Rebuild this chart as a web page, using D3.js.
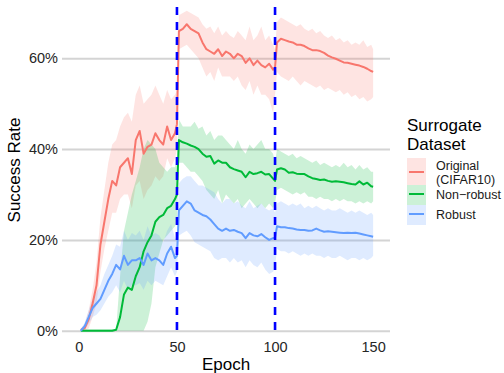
<!DOCTYPE html>
<html><head><meta charset="utf-8">
<script src="https://cdn.jsdelivr.net/npm/d3@7"></script>
<style>body{margin:0;background:#fff} svg{display:block} text{font-family:"Liberation Sans",Arial,sans-serif}</style>
</head><body><svg id="c" width="504" height="373"></svg>
<script>
const epochs = [1,3,5,7,9,11,13,15,17,19,21,23,25,27,29,31,33,35,37,39,41,43,45,47,49,50,
  51,53,55,57,59,61,63,65,67,69,71,73,75,77,79,81,83,85,87,89,91,93,95,97,99,100,
  101,103,105,107,109,111,113,115,117,119,121,123,125,127,129,131,133,135,137,139,141,143,145,147,149,150];

const origMean = [0.2,0.6,2.5,6,10,19,24,29,33,32,36,37,38,34.5,42,44,39,40.5,41,43.5,42,41,45,42,43.5,45.5,
  66,66.5,67.5,66.5,66,65.5,63.5,62,61.5,61,62,60.5,61.5,61,60,61,60.5,59,60,58.5,59.5,58.5,58,58.8,57.5,58,
  63.5,64.3,64,63.7,63.5,63,63,62.7,62.2,61.8,61.8,61.6,61.2,60.6,60.2,59.9,59.5,59.1,59,58.8,58.6,58.4,58.1,57.7,57.2,57];
const origLo = [0,0,0.5,3,6,13,18,22,26,26,29,30,30,27,32,33,29,31,32,34,33,34,38,36,38,40,
  62,62.5,63,62,61,60,58,56,57,55,58,56,56,56,55,56,54,53,55,52,54,52,52,51,48,52,
  57,56,55.5,55,56,55,54,55,54.5,54,53.5,54,53,53.5,53,52.5,53,52,52.5,51.5,52,51,51.5,50.5,51,51.5];
const origHi = [0.5,1.5,4.5,9,15,25,31,37,41,42,45,47,48,46,52,54,50,51,52,54,52,50,53,51,52,53,
  69.5,70,70.5,70,69.5,69,67.5,66.5,67,65.5,67,65,66,65,64.5,66,65,64,67,64,65,67,64,65,63,62,
  68,69,68.5,68,67.5,67,67.5,66.5,66,66.5,65.5,66,65,64.5,65,64,64.5,63.5,64,63,63.5,63,64,62.5,63,62];

const nonMean = [0,0,0,0,0,0,0,0,0,0.2,3,8,9.5,9,12,14,17.5,19.5,21,24,25,25.5,27,27.5,29,30,
  42,41.5,41.2,40.8,40.5,40,39,38.3,38.5,36.8,37.5,37,37,36,35.6,35.3,35,33.8,35,34.5,34.7,35,34.4,34.5,33.5,33,
  35.5,35.8,35.5,34.8,34.9,34.6,34.5,34.5,34,33.6,33.4,33.2,33.3,33,32.8,32.9,32.8,32.7,32.5,32.3,32.2,32.9,32.2,32.6,31.8,31.7];
const nonLo = [0,0,0,0,0,0,0,0,0,0,0,0,0,0,0,0,0,2,6,14,17,20,21,22,23,24,
  37,37,36,35,35,34,33,31,30,29,31,28,30,29,28,29,27,28,29,28,27,28,27,28,27,28,
  31,31.5,31,30.5,30,30.5,30,30.5,29.5,29.5,29,29.5,29,29,28.5,29,28.5,29,28.5,28.5,28,28.5,28,28.5,28,28.5];
const nonHi = [0.3,0.3,0.3,0.3,0.3,0.3,0.3,0.3,0.3,0.3,12,22,26,30,33,36,40,42,41,40,37,36,35,36,36,38,
  46.5,45,45,45,46,44.5,45,43,44,42,43,43,42,41,40,42,40,39,41,40,41,42,40,40,39,37,
  40,39.5,39,38.5,39,38,38.5,38,37.5,37,37.5,36.5,37,36.5,36,36.5,36,37,36,36.5,35.5,36.5,35.5,36,35,35];

const robMean = [0,1,3,5,6,7,9,11,12.5,14.5,13.5,16.5,14.5,15.5,15.5,16,14.5,17,15.5,16,15.5,14.5,17,18.5,16,16.5,
  26.5,27.5,28.5,28,26.5,26,25.5,25.2,24.5,23.5,22.5,22,22.5,22,22.2,21.8,21.5,20.4,21.5,21,20.8,21.3,20.6,20,20.4,20.5,
  23,22.8,22.8,22.6,22.5,22.3,22.2,22.2,22,22.1,22.5,22.1,21.8,21.9,21.8,21.7,21.6,21.5,21.6,21.5,21.6,21.4,21.2,21,20.8,20.7];
const robLo = [0,0.3,1.5,3,3.5,4.5,6,7.5,8.5,10,8.5,11,9,10,10,10.5,9,11,10,11,10.5,10,12,14,12,13,
  21,21.5,22,21,19.5,19,18.5,18,17.5,16,15.5,16,16,15,16,15,15.5,14,15.5,14.5,14,15,13.5,12.5,13,14,
  18,17.5,17.5,17,17.5,17,16.5,17,16.5,17,16.5,16.5,16,16.5,16,16,16.5,16,15.5,16,16,15.5,16,15.5,16,16.5];
const robHi = [0.3,1.8,4.5,7,8.5,10,12.5,14.5,16.5,19,18.5,22,20,21.5,21,22,20,23,21,21.5,21,19.5,22,23.5,20.5,20,
  32.5,33.5,34,34,33,32,32,31.5,31,30.5,29,28,29,29,28,28.5,27.5,27,28.5,27,27.5,28,27,26.5,27,26,
  28,28.5,28,27.5,28,27.5,28,27,27.5,27,27.5,27,26.5,27,26.5,26.5,27,26.5,26,26.5,26,26.5,26,25.5,26,25.5];

const seriesNames = ["Original\n(CIFAR10)", "Non\u2212robust", "Robust"];
const seriesColors = ["#F8766D", "#00BA38", "#619CFF"];
const yTicks = [0, 20, 40, 60];
const xTicks = [0, 50, 100, 150];
const phaseEpochs = [50, 100];
const legendTitle = ["Surrogate", "Dataset"];

const series = [
  {mean: origMean, lo: origLo, hi: origHi},
  {mean: nonMean, lo: nonLo, hi: nonHi},
  {mean: robMean, lo: robLo, hi: robHi}
].map((s, i) => ({...s, name: seriesNames[i], color: seriesColors[i]}));

const svg = d3.select("#c");
const L = 62, R = 390, T = 7, B = 333;
const x = d3.scaleLinear().domain([-8.6, 158.6]).range([L, R]);
const y = d3.scaleLinear().domain([-0.5, 71.3]).range([B, T]);

// y axis with gridlines
const gy = svg.append("g").attr("transform", `translate(${L},0)`)
  .call(d3.axisLeft(y).tickValues(yTicks).tickFormat(d => d + "%").tickSize(-(R - L)).tickPadding(4));
gy.select(".domain").remove();
gy.selectAll(".tick line").attr("stroke", "#d4d4d4").attr("stroke-width", 2);
gy.selectAll(".tick text").attr("font-size", 14.5).attr("fill", "#262626")
  .attr("font-family", '"Liberation Sans",Arial,sans-serif');

// x axis
const gx = svg.append("g").attr("transform", `translate(0,${B})`)
  .call(d3.axisBottom(x).tickValues(xTicks).tickSize(0).tickPadding(9));
gx.select(".domain").remove();
gx.selectAll(".tick text").attr("font-size", 14.5).attr("fill", "#262626")
  .attr("font-family", '"Liberation Sans",Arial,sans-serif');

// ribbons
const idx = d3.range(epochs.length);
series.forEach(s => {
  const area = d3.area().x(i => x(epochs[i])).y0(i => y(s.lo[i])).y1(i => y(s.hi[i]));
  svg.append("path").datum(idx).attr("d", area).attr("fill", s.color).attr("fill-opacity", 0.2);
});
// lines
series.forEach(s => {
  const line = d3.line().x(i => x(epochs[i])).y(i => y(s.mean[i]));
  svg.append("path").datum(idx).attr("d", line).attr("fill", "none")
    .attr("stroke", s.color).attr("stroke-width", 2).attr("stroke-linejoin", "round");
});
// phase lines
svg.append("g").selectAll("line").data(phaseEpochs).join("line")
  .attr("x1", d => x(d)).attr("x2", d => x(d)).attr("y1", T).attr("y2", B)
  .attr("stroke", "#0000FF").attr("stroke-width", 2.6).attr("stroke-dasharray", "8,7");

// axis titles
svg.append("text").attr("x", (L + R) / 2).attr("y", 370).attr("text-anchor", "middle")
  .attr("font-size", 17).attr("fill", "#000").text("Epoch");
svg.append("text").attr("transform", `translate(20,${(T + B) / 2}) rotate(-90)`).attr("text-anchor", "middle")
  .attr("font-size", 17).attr("fill", "#000").text("Success Rate");

// legend
const lg = svg.append("g");
lg.selectAll("text.title").data(legendTitle).join("text").attr("class", "title")
  .attr("x", 407).attr("y", (d, i) => 131 + i * 19).attr("font-size", 17).attr("fill", "#000").text(d => d);
const keys = [{y0: 158, y1: 185, ly: 172}, {y0: 185, y1: 205, ly: 194}, {y0: 205, y1: 225, ly: 214}];
series.forEach((s, i) => {
  const k = keys[i];
  lg.append("rect").attr("x", 407).attr("y", k.y0).attr("width", 19).attr("height", k.y1 - k.y0)
    .attr("fill", s.color).attr("fill-opacity", 0.2);
  lg.append("line").attr("x1", 409).attr("x2", 424).attr("y1", k.ly).attr("y2", k.ly)
    .attr("stroke", s.color).attr("stroke-width", 2);
  const lines = s.name.split("\n");
  const t = lg.append("text").attr("x", 436).attr("font-size", 12.5).attr("fill", "#1a1a1a");
  if (lines.length === 2) {
    t.append("tspan").attr("x", 436).attr("y", 170).text(lines[0]);
    t.append("tspan").attr("x", 436).attr("y", 184).text(lines[1]);
  } else {
    t.attr("y", k.ly + 5).text(lines[0]);
  }
});
</script></body></html>
